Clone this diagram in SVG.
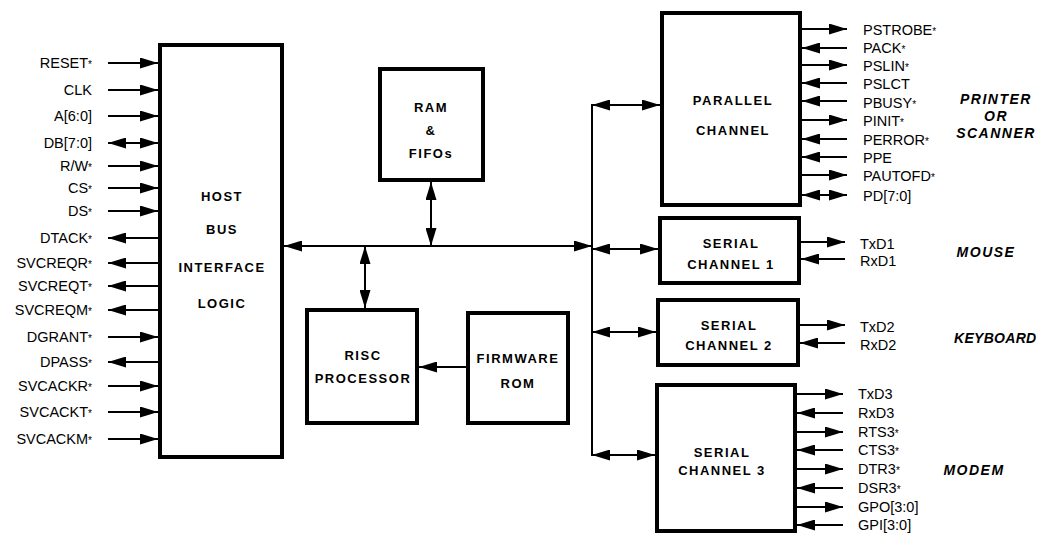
<svg xmlns="http://www.w3.org/2000/svg" width="1038" height="535" viewBox="0 0 1038 535">
<style>
.box{fill:#fff;stroke:#000;stroke-width:4}
.ln{stroke:#000;stroke-width:2;fill:none}
.bl{font-family:"Liberation Sans",Arial,sans-serif;font-weight:bold;font-size:13px;letter-spacing:1.5px;text-anchor:middle;fill:#000}
.sig{font-family:"Liberation Sans",Arial,sans-serif;font-size:14.5px;fill:#000}
.le{text-anchor:end}
.dev{font-family:"Liberation Sans",Arial,sans-serif;font-size:14px;font-style:italic;font-weight:bold;letter-spacing:1.5px;fill:#000;text-anchor:middle}
.a{font-size:10px}
</style>
<defs>
<marker id="ah" viewBox="0 0 18 11" refX="18" refY="5.5" markerWidth="18" markerHeight="11" markerUnits="userSpaceOnUse" orient="auto-start-reverse">
<path d="M0,0 L18,5.5 L0,11 z" fill="#000"/>
</marker>
</defs>
<rect width="1038" height="535" fill="#fff"/>

<g id="host">
<rect class="box" x="160" y="45" width="122" height="412"/>
<text class="bl" x="222" y="201">HOST</text>
<text class="bl" x="222" y="234">BUS</text>
<text class="bl" x="222" y="272">INTERFACE</text>
<text class="bl" x="222" y="308">LOGIC</text>
</g>
<g id="ram">
<rect class="box" x="380" y="69" width="103" height="111"/>
<text class="bl" x="431" y="112">RAM</text>
<text class="bl" x="431" y="135">&amp;</text>
<text class="bl" x="431" y="158">FIFOs</text>
</g>
<g id="risc">
<rect class="box" x="307" y="310" width="110" height="113"/>
<text class="bl" x="363" y="360">RISC</text>
<text class="bl" x="363" y="383">PROCESSOR</text>
</g>
<g id="rom">
<rect class="box" x="468" y="313" width="100" height="110"/>
<text class="bl" x="518" y="363">FIRMWARE</text>
<text class="bl" x="518" y="388">ROM</text>
</g>
<g id="parallel">
<rect class="box" x="662" y="13" width="138" height="192"/>
<text class="bl" x="733" y="105">PARALLEL</text>
<text class="bl" x="733" y="135">CHANNEL</text>
</g>
<g id="serial1">
<rect class="box" x="660" y="218" width="139" height="65"/>
<text class="bl" x="731" y="248">SERIAL</text>
<text class="bl" x="731" y="269">CHANNEL 1</text>
</g>
<g id="serial2">
<rect class="box" x="658" y="300" width="140" height="65"/>
<text class="bl" x="729" y="330">SERIAL</text>
<text class="bl" x="729" y="350">CHANNEL 2</text>
</g>
<g id="serial3">
<rect class="box" x="657" y="385" width="138" height="146"/>
<text class="bl" x="722" y="457">SERIAL</text>
<text class="bl" x="722" y="475">CHANNEL 3</text>
</g>

<g id="connectors">
<line class="ln" x1="284" y1="246" x2="592" y2="246" marker-start="url(#ah)" marker-end="url(#ah)"/>
<line class="ln" x1="431" y1="182" x2="431" y2="246" marker-start="url(#ah)" marker-end="url(#ah)"/>
<line class="ln" x1="365" y1="246" x2="365" y2="308" marker-start="url(#ah)" marker-end="url(#ah)"/>
<line class="ln" x1="466" y1="367" x2="419" y2="367" marker-end="url(#ah)"/>
<line class="ln" x1="592" y1="104" x2="592" y2="456"/>
<line class="ln" x1="592" y1="105" x2="660" y2="105" marker-start="url(#ah)" marker-end="url(#ah)"/>
<line class="ln" x1="592" y1="249" x2="658" y2="249" marker-start="url(#ah)" marker-end="url(#ah)"/>
<line class="ln" x1="592" y1="332" x2="656" y2="332" marker-start="url(#ah)" marker-end="url(#ah)"/>
<line class="ln" x1="592" y1="455" x2="655" y2="455" marker-start="url(#ah)" marker-end="url(#ah)"/>
<line class="ln" x1="108" y1="63" x2="158" y2="63" marker-end="url(#ah)"/>
<line class="ln" x1="108" y1="90" x2="158" y2="90" marker-end="url(#ah)"/>
<line class="ln" x1="108" y1="116" x2="158" y2="116" marker-end="url(#ah)"/>
<line class="ln" x1="108" y1="143" x2="158" y2="143" marker-start="url(#ah)" marker-end="url(#ah)"/>
<line class="ln" x1="108" y1="166" x2="158" y2="166" marker-end="url(#ah)"/>
<line class="ln" x1="108" y1="188" x2="158" y2="188" marker-end="url(#ah)"/>
<line class="ln" x1="108" y1="211" x2="158" y2="211" marker-end="url(#ah)"/>
<line class="ln" x1="158" y1="238" x2="108" y2="238" marker-end="url(#ah)"/>
<line class="ln" x1="158" y1="263" x2="108" y2="263" marker-end="url(#ah)"/>
<line class="ln" x1="158" y1="286" x2="108" y2="286" marker-end="url(#ah)"/>
<line class="ln" x1="158" y1="310" x2="108" y2="310" marker-end="url(#ah)"/>
<line class="ln" x1="108" y1="337" x2="158" y2="337" marker-end="url(#ah)"/>
<line class="ln" x1="158" y1="362" x2="108" y2="362" marker-end="url(#ah)"/>
<line class="ln" x1="108" y1="386" x2="158" y2="386" marker-end="url(#ah)"/>
<line class="ln" x1="108" y1="412" x2="158" y2="412" marker-end="url(#ah)"/>
<line class="ln" x1="108" y1="439" x2="158" y2="439" marker-end="url(#ah)"/>
<line class="ln" x1="802" y1="29" x2="847" y2="29" marker-end="url(#ah)"/>
<line class="ln" x1="847" y1="48" x2="802" y2="48" marker-end="url(#ah)"/>
<line class="ln" x1="802" y1="65" x2="847" y2="65" marker-end="url(#ah)"/>
<line class="ln" x1="847" y1="83" x2="802" y2="83" marker-end="url(#ah)"/>
<line class="ln" x1="847" y1="101" x2="802" y2="101" marker-end="url(#ah)"/>
<line class="ln" x1="802" y1="120" x2="847" y2="120" marker-end="url(#ah)"/>
<line class="ln" x1="847" y1="139" x2="802" y2="139" marker-end="url(#ah)"/>
<line class="ln" x1="847" y1="157" x2="802" y2="157" marker-end="url(#ah)"/>
<line class="ln" x1="802" y1="175" x2="847" y2="175" marker-end="url(#ah)"/>
<line class="ln" x1="802" y1="195" x2="847" y2="195" marker-start="url(#ah)" marker-end="url(#ah)"/>
<line class="ln" x1="801" y1="242" x2="845" y2="242" marker-end="url(#ah)"/>
<line class="ln" x1="845" y1="259" x2="801" y2="259" marker-end="url(#ah)"/>
<line class="ln" x1="800" y1="325" x2="845" y2="325" marker-end="url(#ah)"/>
<line class="ln" x1="845" y1="343" x2="800" y2="343" marker-end="url(#ah)"/>
<line class="ln" x1="797" y1="394" x2="843" y2="394" marker-end="url(#ah)"/>
<line class="ln" x1="843" y1="413" x2="797" y2="413" marker-end="url(#ah)"/>
<line class="ln" x1="797" y1="432" x2="843" y2="432" marker-end="url(#ah)"/>
<line class="ln" x1="843" y1="450" x2="797" y2="450" marker-end="url(#ah)"/>
<line class="ln" x1="797" y1="469" x2="843" y2="469" marker-end="url(#ah)"/>
<line class="ln" x1="843" y1="488" x2="797" y2="488" marker-end="url(#ah)"/>
<line class="ln" x1="797" y1="507" x2="843" y2="507" marker-end="url(#ah)"/>
<line class="ln" x1="843" y1="525" x2="797" y2="525" marker-end="url(#ah)"/>
</g>

<g id="host-labels">
<text class="sig le" x="92" y="68">RESET<tspan class="a">*</tspan></text>
<text class="sig le" x="92" y="95">CLK</text>
<text class="sig le" x="92" y="121">A[6:0]</text>
<text class="sig le" x="92" y="148">DB[7:0]</text>
<text class="sig le" x="92" y="171">R/W<tspan class="a">*</tspan></text>
<text class="sig le" x="92" y="193">CS<tspan class="a">*</tspan></text>
<text class="sig le" x="92" y="216">DS<tspan class="a">*</tspan></text>
<text class="sig le" x="92" y="243">DTACK<tspan class="a">*</tspan></text>
<text class="sig le" x="92" y="268">SVCREQR<tspan class="a">*</tspan></text>
<text class="sig le" x="92" y="291">SVCREQT<tspan class="a">*</tspan></text>
<text class="sig le" x="92" y="315">SVCREQM<tspan class="a">*</tspan></text>
<text class="sig le" x="92" y="342">DGRANT<tspan class="a">*</tspan></text>
<text class="sig le" x="92" y="367">DPASS<tspan class="a">*</tspan></text>
<text class="sig le" x="92" y="391">SVCACKR<tspan class="a">*</tspan></text>
<text class="sig le" x="92" y="417">SVCACKT<tspan class="a">*</tspan></text>
<text class="sig le" x="92" y="444">SVCACKM<tspan class="a">*</tspan></text>
</g>

<g id="parallel-labels">
<text class="sig" x="863" y="35">PSTROBE<tspan class="a">*</tspan></text>
<text class="sig" x="863" y="53">PACK<tspan class="a">*</tspan></text>
<text class="sig" x="863" y="71">PSLIN<tspan class="a">*</tspan></text>
<text class="sig" x="863" y="89">PSLCT</text>
<text class="sig" x="863" y="108">PBUSY<tspan class="a">*</tspan></text>
<text class="sig" x="863" y="126">PINIT<tspan class="a">*</tspan></text>
<text class="sig" x="863" y="145">PERROR<tspan class="a">*</tspan></text>
<text class="sig" x="863" y="163">PPE</text>
<text class="sig" x="863" y="181">PAUTOFD<tspan class="a">*</tspan></text>
<text class="sig" x="863" y="201">PD[7:0]</text>
<text class="dev" x="996" y="104">PRINTER</text>
<text class="dev" x="996" y="121">OR</text>
<text class="dev" x="996" y="138">SCANNER</text>
</g>

<g id="serial-labels">
<text class="sig" x="860" y="249">TxD1</text>
<text class="sig" x="860" y="266">RxD1</text>
<text class="dev" x="986" y="257">MOUSE</text>
<text class="sig" x="860" y="332">TxD2</text>
<text class="sig" x="860" y="350">RxD2</text>
<text class="dev" x="954" y="343" style="text-anchor:start;letter-spacing:0.3px">KEYBOARD</text>
<text class="sig" x="858" y="399">TxD3</text>
<text class="sig" x="858" y="418">RxD3</text>
<text class="sig" x="858" y="437">RTS3<tspan class="a">*</tspan></text>
<text class="sig" x="858" y="455">CTS3<tspan class="a">*</tspan></text>
<text class="sig" x="858" y="474">DTR3<tspan class="a">*</tspan></text>
<text class="sig" x="858" y="493">DSR3<tspan class="a">*</tspan></text>
<text class="sig" x="858" y="512">GPO[3:0]</text>
<text class="sig" x="858" y="530">GPI[3:0]</text>
<text class="dev" x="974" y="475">MODEM</text>
</g>
</svg>
